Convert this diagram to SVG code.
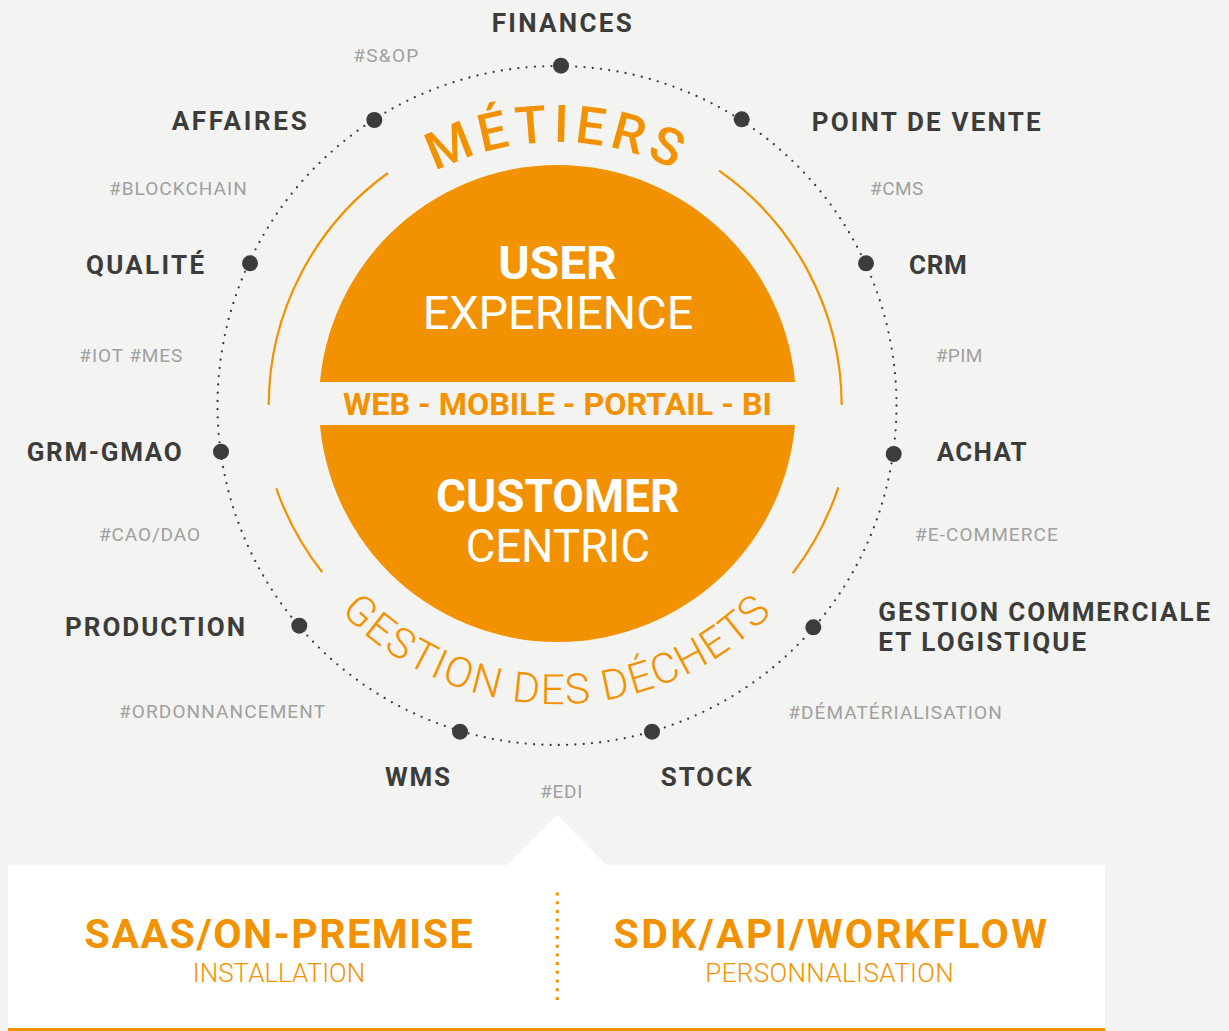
<svg xmlns="http://www.w3.org/2000/svg" width="1229" height="1031" viewBox="0 0 1229 1031">
<style>
text{font-family:Roboto,"Liberation Sans",sans-serif}
.lbl{font-size:26px;font-weight:700;fill:#3c3c3b}
.tag{font-size:19px;font-weight:400;fill:#a0a09f}
.wb{font-size:47px;font-weight:700;fill:#ffffff}
.wr{font-size:47px;font-weight:400;fill:#ffffff}
.ob{font-size:41px;font-weight:700;fill:#f39200}
.ol{font-size:26px;font-weight:300;fill:#f39200}
.dot{fill:#3c3c3b}
.arc{fill:none;stroke:#f39200;stroke-width:2.2}
</style>
<defs>
<path id="topArc" d="M 329.2 273.5 A 263 263 0 0 1 784.8 273.5"/>
<path id="botArc" d="M 276 507.3 A 299 299 0 0 0 838 507.3"/>
</defs>
<rect x="0" y="0" width="1229" height="1031" fill="#f3f3f1"/>

<g id="connectors">
<circle cx="557" cy="405.5" r="339.5" fill="none" stroke="#3c3c3b" stroke-width="2.3" stroke-dasharray="0 8.3" stroke-linecap="round"/>
<path class="arc" d="M 388 173 A 287 287 0 0 0 268.7 405"/>
<path class="arc" d="M 719 170.7 A 287 287 0 0 1 841.7 405"/>
<path class="arc" d="M 276.3 488.3 A 290 290 0 0 0 322.3 572.3"/>
<path class="arc" d="M 838.3 487.3 A 290 290 0 0 1 792.7 573.3"/>
</g>

<g id="core">
<circle cx="557.5" cy="403.5" r="238.5" fill="#f39200"/>
<rect x="310" y="382" width="495" height="43" fill="#f3f3f1"/>
<text class="wb" x="498.3" y="279" textLength="118.4" lengthAdjust="spacingAndGlyphs">USER</text>
<text class="wr" x="422.7" y="329.3" textLength="270.6" lengthAdjust="spacingAndGlyphs">EXPERIENCE</text>
<text x="343" y="415" textLength="429" lengthAdjust="spacingAndGlyphs" style="font-size:32px;font-weight:700;fill:#f39200">WEB - MOBILE - PORTAIL - BI</text>
<text class="wb" x="436" y="512.3" textLength="243.3" lengthAdjust="spacingAndGlyphs">CUSTOMER</text>
<text class="wr" x="465.7" y="562.3" textLength="184.3" lengthAdjust="spacingAndGlyphs">CENTRIC</text>
</g>

<g id="ring-titles">
<text style="font-size:52px;font-weight:500;fill:#f39200;letter-spacing:5.5px"><textPath href="#topArc" startOffset="50%" text-anchor="middle">MÉTIERS</textPath></text>
<text style="font-size:42px;font-weight:300;fill:#f39200;letter-spacing:1.7px"><textPath href="#botArc" startOffset="50%" text-anchor="middle">GESTION DES DÉCHETS</textPath></text>
</g>

<g id="node-finances"><circle class="dot" cx="561" cy="65.7" r="8"/><text class="lbl" x="491.7" y="32.3" textLength="140" lengthAdjust="spacing">FINANCES</text></g>
<g id="node-pdv"><circle class="dot" cx="741.7" cy="119.3" r="8"/><text class="lbl" x="811.7" y="130.7" textLength="229" lengthAdjust="spacing">POINT DE VENTE</text></g>
<g id="node-crm"><circle class="dot" cx="866" cy="263.3" r="8"/><text class="lbl" x="909" y="274" textLength="57.7" lengthAdjust="spacing">CRM</text></g>
<g id="node-achat"><circle class="dot" cx="893.7" cy="454" r="8"/><text class="lbl" x="936.7" y="461" textLength="90" lengthAdjust="spacing">ACHAT</text></g>
<g id="node-gestion"><circle class="dot" cx="813.3" cy="627.3" r="8"/><text class="lbl" x="878.3" y="621" textLength="331.7" lengthAdjust="spacing">GESTION COMMERCIALE</text><text class="lbl" x="878.3" y="650.7" textLength="207.7" lengthAdjust="spacing">ET LOGISTIQUE</text></g>
<g id="node-stock"><circle class="dot" cx="652" cy="731.7" r="8"/><text class="lbl" x="660.7" y="785.7" textLength="91" lengthAdjust="spacing">STOCK</text></g>
<g id="node-wms"><circle class="dot" cx="460" cy="731.7" r="8"/><text class="lbl" x="385" y="785.7" textLength="65" lengthAdjust="spacing">WMS</text></g>
<g id="node-production"><circle class="dot" cx="299.3" cy="625.7" r="8"/><text class="lbl" x="65" y="636" textLength="180" lengthAdjust="spacing">PRODUCTION</text></g>
<g id="node-grm"><circle class="dot" cx="221" cy="451.7" r="8"/><text class="lbl" x="26.7" y="460.7" textLength="155" lengthAdjust="spacing">GRM-GMAO</text></g>
<g id="node-qualite"><circle class="dot" cx="250" cy="263.3" r="8"/><text class="lbl" x="86" y="274.3" textLength="118" lengthAdjust="spacing">QUALITÉ</text></g>
<g id="node-affaires"><circle class="dot" cx="374.3" cy="120" r="8"/><text class="lbl" x="171.7" y="130" textLength="135" lengthAdjust="spacing">AFFAIRES</text></g>

<g id="tags">
<text class="tag" x="353.3" y="61.7" textLength="65" lengthAdjust="spacing">#S&amp;OP</text>
<text class="tag" x="109" y="195" textLength="137.7" lengthAdjust="spacing">#BLOCKCHAIN</text>
<text class="tag" x="79.3" y="361.7" textLength="103" lengthAdjust="spacing">#IOT #MES</text>
<text class="tag" x="870" y="195" textLength="53.3" lengthAdjust="spacing">#CMS</text>
<text class="tag" x="935.7" y="361.7" textLength="46.6" lengthAdjust="spacing">#PIM</text>
<text class="tag" x="99" y="541" textLength="101" lengthAdjust="spacing">#CAO/DAO</text>
<text class="tag" x="119" y="717.7" textLength="206" lengthAdjust="spacing">#ORDONNANCEMENT</text>
<text class="tag" x="915" y="541" textLength="142.7" lengthAdjust="spacing">#E-COMMERCE</text>
<text class="tag" x="788.3" y="719.3" textLength="213.4" lengthAdjust="spacing">#DÉMATÉRIALISATION</text>
<text class="tag" x="540" y="797.7" textLength="42.3" lengthAdjust="spacing">#EDI</text>
</g>

<g id="bottom-panel">
<rect x="8" y="865" width="1097" height="166" fill="#ffffff"/>
<polygon points="507.3,865.5 557.3,815 606.7,865.5" fill="#ffffff"/>
<rect x="8" y="1028" width="1097" height="3" fill="#f39200"/>
<line x1="557.3" y1="892.5" x2="557.3" y2="1001" stroke="#f39200" stroke-width="3" stroke-dasharray="3 5.7"/>
<text class="ob" x="84.6" y="947.7" textLength="388" lengthAdjust="spacing">SAAS/ON-PREMISE</text>
<text class="ol" x="192.8" y="981.7" textLength="172.4" lengthAdjust="spacing">INSTALLATION</text>
<text class="ob" x="613.6" y="947.7" textLength="433.4" lengthAdjust="spacing">SDK/API/WORKFLOW</text>
<text class="ol" x="705.3" y="981.7" textLength="248.5" lengthAdjust="spacing">PERSONNALISATION</text>
</g>
</svg>
